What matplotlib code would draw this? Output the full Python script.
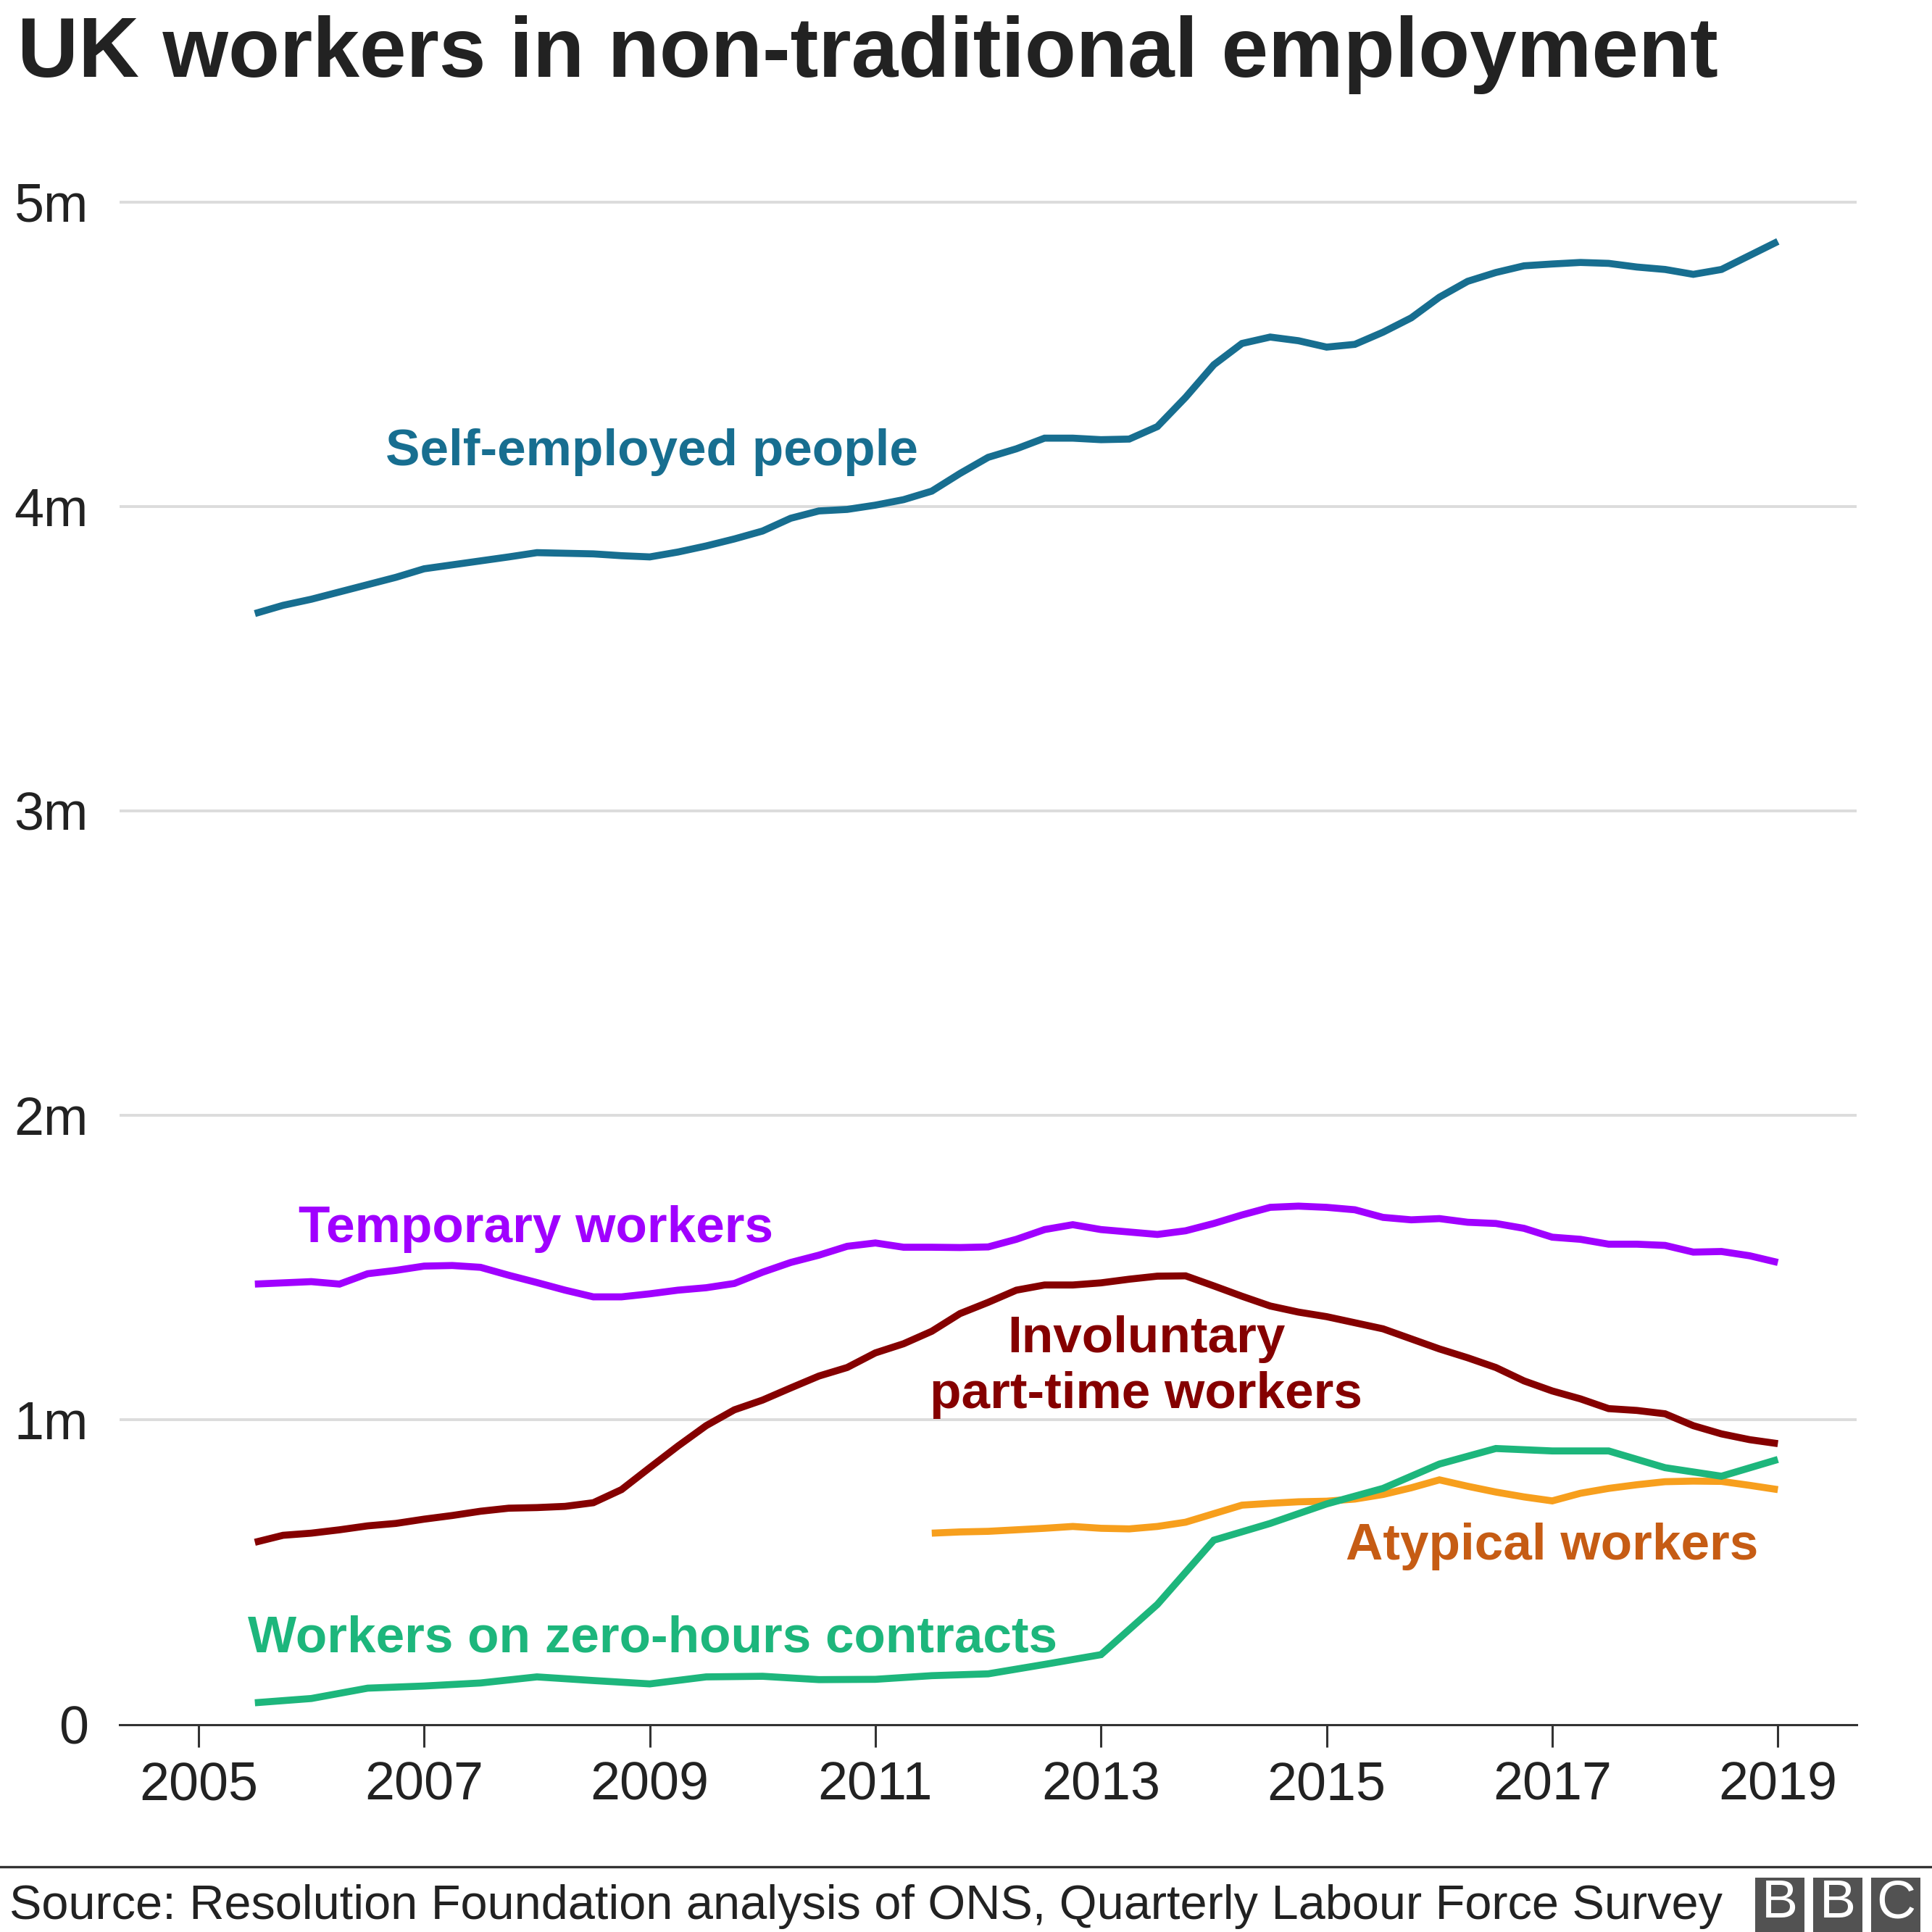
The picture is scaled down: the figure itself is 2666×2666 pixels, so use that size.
import numpy as np
import matplotlib
matplotlib.use("Agg")
import matplotlib.pyplot as plt
from matplotlib.patches import Rectangle
from matplotlib.lines import Line2D

plt.rcParams['font.family'] = ['Liberation Sans', 'DejaVu Sans']

### Datos (millones de trabajadores) ###
# trimestral 2005 T2 - 2019 T1
quarters = np.arange(2005.5, 2019.01, 0.25)
self_employed = [3.648, 3.675, 3.695, 3.719, 3.743, 3.767, 3.795, 3.808, 3.821, 3.834,
                 3.848, 3.846, 3.844, 3.838, 3.834, 3.850, 3.870, 3.893, 3.919, 3.961,
                 3.985, 3.990, 4.004, 4.022, 4.050, 4.108, 4.161, 4.189, 4.224, 4.224,
                 4.219, 4.221, 4.262, 4.358, 4.465, 4.535, 4.556, 4.544, 4.523, 4.532,
                 4.572, 4.619, 4.687, 4.739, 4.768, 4.790, 4.796, 4.801, 4.798, 4.786,
                 4.778, 4.762, 4.778, 4.824, 4.870]
temporary = [1.446, 1.450, 1.454, 1.446, 1.480, 1.491, 1.505, 1.507, 1.501, 1.475,
             1.451, 1.426, 1.404, 1.404, 1.414, 1.426, 1.434, 1.448, 1.485, 1.517,
             1.541, 1.570, 1.581, 1.567, 1.567, 1.566, 1.568, 1.593, 1.625, 1.641,
             1.625, 1.617, 1.609, 1.621, 1.645, 1.673, 1.698, 1.702, 1.698, 1.690,
             1.665, 1.657, 1.661, 1.649, 1.645, 1.629, 1.600, 1.593, 1.577, 1.577,
             1.573, 1.551, 1.553, 1.539, 1.517]
involuntary = [0.598, 0.621, 0.628, 0.639, 0.652, 0.660, 0.674, 0.686, 0.700, 0.710,
               0.712, 0.716, 0.728, 0.771, 0.843, 0.914, 0.981, 1.033, 1.065, 1.105,
               1.144, 1.172, 1.220, 1.250, 1.291, 1.349, 1.386, 1.426, 1.443, 1.443,
               1.450, 1.462, 1.472, 1.473, 1.440, 1.406, 1.374, 1.354, 1.339, 1.319,
               1.299, 1.266, 1.233, 1.204, 1.172, 1.128, 1.095, 1.069, 1.037, 1.031,
               1.020, 0.981, 0.954, 0.935, 0.922]

# semestral 2005 - 2019
half_years = np.arange(2005.5, 2019.01, 0.5)
zero_hours = [0.071, 0.085, 0.119, 0.126, 0.136, 0.156, 0.144, 0.133, 0.156, 0.158,
              0.147, 0.148, 0.160, 0.166, 0.197, 0.229, 0.394, 0.605, 0.660, 0.724,
              0.775, 0.855, 0.906, 0.898, 0.898, 0.843, 0.815, 0.870]

# trimestral 2011 T3 - 2019 T1
quarters_atyp = np.arange(2011.5, 2019.01, 0.25)
atypical = [0.628, 0.632, 0.634, 0.639, 0.644, 0.650, 0.644, 0.642, 0.650, 0.664,
            0.692, 0.720, 0.726, 0.731, 0.733, 0.740, 0.755, 0.777, 0.803, 0.782,
            0.763, 0.747, 0.734, 0.759, 0.775, 0.787, 0.797, 0.799, 0.798, 0.785,
            0.771]

year_ticks = [2005, 2007, 2009, 2011, 2013, 2015, 2017, 2019]
y_ticks = [0, 1, 2, 3, 4, 5]
y_labels = ['0', '1m', '2m', '3m', '4m', '5m']

### Colores ###
c_self = '#176e90'
c_temp = '#a000ff'
c_invol = '#850000'
c_zero = '#1db67c'
c_atyp = '#f79f1d'
c_atyp_txt = '#c65c14'
c_text = '#222222'

### Figura ###
fig = plt.figure(figsize=(13.33, 13.33), dpi=200)
ax = fig.add_axes([0.0618, 0.10746, 0.8993, 0.81958])

lw = 3.5
kw = dict(linewidth=lw, solid_capstyle='butt', solid_joinstyle='miter')
ax.plot(quarters, self_employed, color=c_self, **kw)
ax.plot(quarters, temporary, color=c_temp, **kw)
ax.plot(quarters, involuntary, color=c_invol, **kw)
ax.plot(quarters_atyp, atypical, color=c_atyp, **kw)
ax.plot(half_years, zero_hours, color=c_zero, **kw)

ax.set_xlim(2004.299, 2019.70)
ax.set_ylim(0, 5.2)

# Rejilla y ejes
for s in ['top', 'right', 'left']:
    ax.spines[s].set_visible(False)
ax.spines['bottom'].set_color('#333333')
ax.spines['bottom'].set_linewidth(1.1)
ax.set_yticks(y_ticks)
ax.set_yticklabels(y_labels)
ax.set_xticks(year_ticks)
ax.set_xticklabels([str(y) for y in year_ticks])
for yv in y_ticks[1:]:
    ax.axhline(yv, color='#dcdcdc', linewidth=1.4, zorder=0)
ax.tick_params(axis='y', length=0, pad=15.5, labelsize=26.5, labelcolor=c_text)
ax.tick_params(axis='x', length=11, width=1.1, color='#333333', pad=7,
               labelsize=26.5, labelcolor=c_text)

# Etiquetas de las series
lab = dict(fontsize=25.6, fontweight='bold', va='baseline')
ax.text(2006.66, 4.135, 'Self-employed people', color=c_self, ha='left', **lab)
ax.text(2005.89, 1.585, 'Temporary workers', color=c_temp, ha='left', **lab)
ax.text(2013.40, 1.2215, 'Involuntary', color=c_invol, ha='center', **lab)
ax.text(2013.40, 1.040, 'part-time workers', color=c_invol, ha='center', **lab)
ax.text(2015.17, 0.5416, 'Atypical workers', color=c_atyp_txt, ha='left', **lab)
ax.text(2005.44, 0.2385, 'Workers on zero-hours contracts', color=c_zero, ha='left', **lab)

# Título
fig.text(0.009, 0.9602, 'UK workers in non-traditional employment', fontsize=41.9,
         fontweight='bold', color=c_text, ha='left', va='baseline')

# Pie
fig.add_artist(Line2D([0, 1], [0.0338, 0.0338], color='#333333', linewidth=1.2,
                      transform=fig.transFigure))
fig.text(0.005, 0.0068, 'Source: Resolution Foundation analysis of ONS, Quarterly Labour Force Survey',
         fontsize=24, color=c_text, ha='left', va='baseline')

# Logo BBC
W, H = 2666, 2666
for x0, letter in [(2422, 'B'), (2502, 'B'), (2582, 'C')]:
    fig.add_artist(Rectangle((x0 / W, 0), 68 / W, (2666 - 2591) / H,
                             transform=fig.transFigure, facecolor='#525252',
                             edgecolor='none'))
    fig.text((x0 + 34) / W, (2666 - 2627) / H, letter, fontsize=27, color='white',
             ha='center', va='center')

plt.savefig('out.png', dpi=200)
